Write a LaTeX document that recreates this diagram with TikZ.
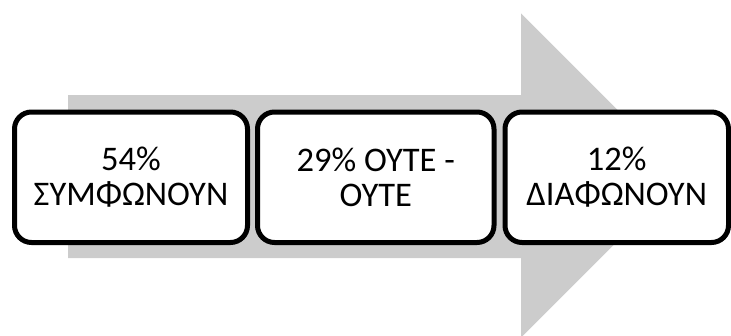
\documentclass[tikz,border=0pt]{standalone}
\usepackage{fontspec}
\setmainfont{Carlito}
\definecolor{arrowgray}{RGB}{204,204,204}
\begin{document}
\begin{tikzpicture}[x=1pt,y=-1pt,
  stagebox/.style={draw=black, line width=5pt, rounded corners=17pt, fill=white,
    align=center, inner sep=0pt, minimum height=130.5pt,
    font=\fontsize{34.5}{35}\selectfont}]
\useasboundingbox (0,0) rectangle (731,335);
\fill[arrowgray] (68,95) -- (521,95) -- (521,13.3) -- (683,175.5) -- (521,337.7) -- (521,258) -- (68,258) -- cycle;
\node[stagebox, minimum width=233pt] (b1) at (131,177.25) {54\%\\ΣΥΜΦΩΝΟΥΝ};
\node[stagebox, minimum width=236.5pt] (b2) at (375.75,177.25) {29\% ΟΥΤΕ -\\ΟΥΤΕ};
\node[stagebox, minimum width=223.5pt] (b3) at (616.75,177.25) {12\%\\ΔΙΑΦΩΝΟΥΝ};
\end{tikzpicture}
\end{document}
